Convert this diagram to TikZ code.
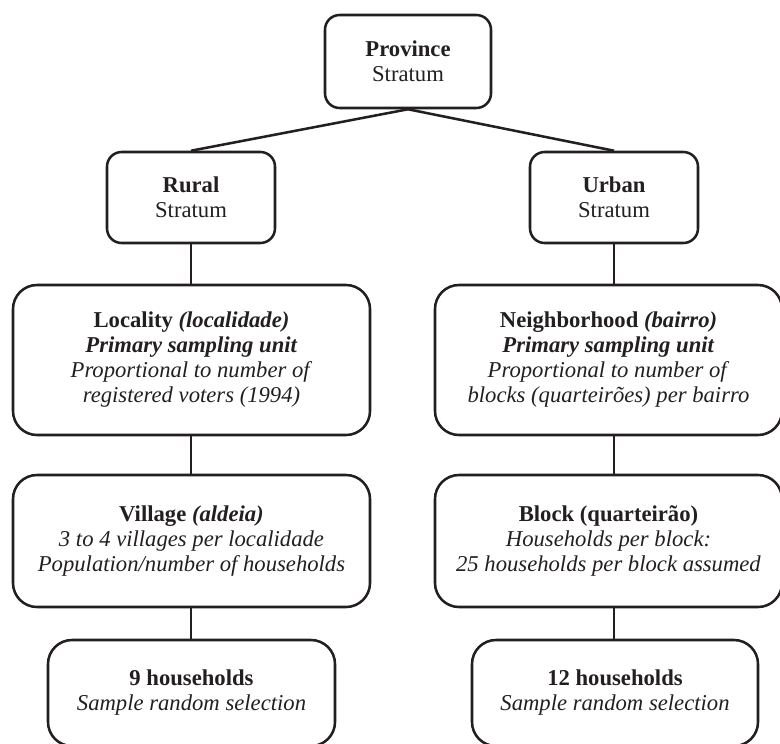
\documentclass[tikz,border=0pt]{standalone}
\usepackage{fontspec}
\setmainfont{Liberation Serif}
\definecolor{ink}{HTML}{231F20}
\begin{document}
\begin{tikzpicture}[x=0.75pt,y=-0.75pt,
  every node/.style={font=\fontsize{17}{18.75}\selectfont, text=ink},
  box/.style={draw=ink, line width=1.9pt, align=center, inner sep=0pt},
  smallbox/.style={box, rounded corners=11pt, minimum width=124.5pt, minimum height=69pt},
  bigbox/.style={box, rounded corners=18pt},
  link/.style={draw=ink, line width=1.9pt}
]
\useasboundingbox (0,0) rectangle (780,743);
\clip (0,0) rectangle (780,743);

\node[smallbox, minimum width=124.5pt, minimum height=69.75pt] (prov) at (408,61.5)
  {\textbf{Province}\\Stratum};
\node[smallbox, minimum width=126pt, minimum height=68.25pt] (rural) at (191,197.5)
  {\textbf{Rural}\\Stratum};
\node[smallbox, minimum width=126pt, minimum height=68.25pt] (urban) at (614,197.5)
  {\textbf{Urban}\\Stratum};

\node[bigbox, minimum width=267.75pt, minimum height=112.5pt] (loc) at (191.5,360)
  {\textbf{Locality} \textbf{\textit{(localidade)}}\\
   \textbf{\textit{Primary sampling unit}}\\
   \textit{Proportional to number of}\\
   \textit{registered voters (1994)}};
\node[bigbox, minimum width=260.25pt, minimum height=112.5pt] (nbh) at (608.5,360)
  {\textbf{Neighborhood} \textbf{\textit{(bairro)}}\\
   \textbf{\textit{Primary sampling unit}}\\
   \textit{Proportional to number of}\\
   \textit{blocks (quarteirões) per bairro}};

\node[bigbox, minimum width=267.75pt, minimum height=99pt] (vil) at (191.5,541)
  {\textbf{Village} \textbf{\textit{(aldeia)}}\\
   \textit{3 to 4 villages per localidade}\\
   \textit{Population/number of households}};
\node[bigbox, minimum width=260.25pt, minimum height=99pt] (blk) at (608.5,541)
  {\textbf{Block (quarteirão)}\\
   \textit{Households per block:}\\
   \textit{25 households per block assumed}};

\node[bigbox, minimum width=215.25pt, minimum height=79.5pt] (hh9) at (191.5,693)
  {\textbf{9 households}\\ \textit{Sample random selection}};
\node[bigbox, minimum width=214.5pt, minimum height=79.5pt] (hh12) at (615,693)
  {\textbf{12 households}\\ \textit{Sample random selection}};

\draw[link] (prov.south) -- (rural.north);
\draw[link] (prov.south) -- (urban.north);
\draw[link] (rural.south) -- (rural.south |- loc.north);
\draw[link] (rural.south |- loc.south) -- (rural.south |- vil.north);
\draw[link] (rural.south |- vil.south) -- (rural.south |- hh9.north);
\draw[link] (urban.south) -- (urban.south |- nbh.north);
\draw[link] (urban.south |- nbh.south) -- (urban.south |- blk.north);
\draw[link] (urban.south |- blk.south) -- (urban.south |- hh12.north);
\end{tikzpicture}
\end{document}
